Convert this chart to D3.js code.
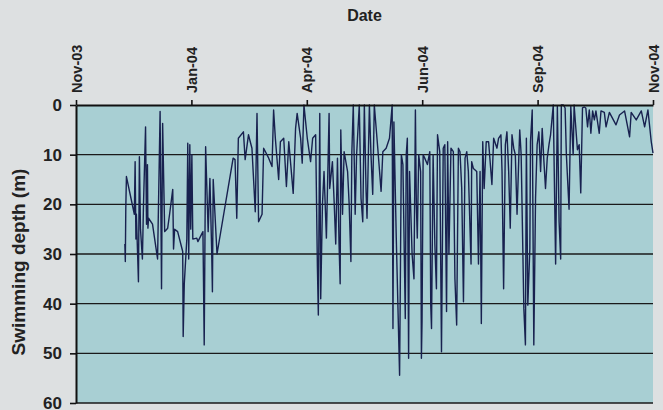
<!DOCTYPE html>
<html>
<head>
<meta charset="utf-8">
<script src="https://cdn.jsdelivr.net/npm/d3@7"></script>
<style>
  html, body { margin: 0; padding: 0; background: #dde0e1; }
  svg { display: block; font-family: "Liberation Sans", Arial, sans-serif; }
</style>
</head>
<body>
<div id="chart"></div>
<script>
// days since 15 Nov 2003 and swimming depth (m)
const dayOfStudy = [
  30.9, 31.2, 31.5, 31.9, 36.9, 37.4, 37.9, 38.2, 39.5, 40.1, 40.8, 42.0, 42.7, 44.0, 44.6, 45.2, 45.5, 45.9,
  48.4, 51.6, 53.2, 54.1, 54.8, 56.1, 58.0, 59.2, 61.2, 61.7, 62.4, 64.3, 67.5, 67.8, 68.5, 70.1, 70.7, 71.3,
  72.0, 72.6, 73.3, 73.9, 76.4, 77.1, 80.3, 81.1, 82.0, 83.6, 84.7, 85.8, 86.3, 86.8, 89.2, 99.4, 100.6, 101.7,
  102.7, 105.9, 107.0, 109.1, 111.3, 113.4, 114.5, 115.5, 117.7, 118.7, 121.9, 124.0, 125.0, 126.1, 128.2, 129.3,
  131.4, 133.1, 134.6, 137.4, 138.9, 139.9, 142.1, 143.1, 144.2, 146.3, 148.4, 149.7, 151.6, 152.7, 153.3, 154.2,
  154.8, 155.9, 156.9, 158.4, 160.1, 160.5, 162.2, 163.3, 164.3, 165.4, 166.4, 167.1, 167.5, 168.6, 169.6, 171.8,
  172.8, 173.9, 174.5, 175.4, 176.6, 177.5, 179.2, 180.3, 181.4, 182.4, 183.5, 184.1, 185.6, 186.6, 187.7, 188.7,
  190.9, 193.0, 194.1, 196.2, 198.3, 200.0, 200.5, 201.1, 202.6, 204.7, 205.8, 206.8, 208.3, 208.9, 209.6, 210.4,
  211.0, 212.6, 213.8, 214.7, 215.3, 215.9, 216.8, 218.0, 218.5, 218.9, 219.6, 220.6, 222.3, 223.8, 224.4, 224.9,
  225.9, 227.0, 228.0, 228.7, 230.1, 231.2, 232.3, 233.3, 234.4, 235.1, 235.9, 237.2, 238.7, 239.7, 240.8, 241.9,
  242.9, 244.0, 245.1, 246.1, 247.2, 248.2, 249.9, 250.3, 251.4, 253.5, 254.6, 255.6, 256.4, 257.3, 258.2, 259.5,
  261.0, 263.1, 264.2, 266.3, 267.3, 268.8, 269.5, 270.5, 271.6, 272.6, 273.7, 274.7, 275.8, 276.9, 277.9, 279.0,
  280.1, 280.7, 281.6, 283.3, 284.3, 284.9, 285.8, 287.1, 287.5, 288.6, 289.6, 290.7, 291.7, 292.8, 293.9, 294.9,
  296.0, 297.0, 298.1, 299.2, 300.2, 301.9, 303.4, 304.5, 305.6, 306.6, 307.0, 308.3, 309.4, 310.2, 311.9, 313.0,
  314.5, 315.1, 317.2, 318.3, 319.3, 320.4, 321.5, 322.5, 323.6, 324.7, 325.7, 326.8, 327.9, 328.9, 331.0, 332.1,
  334.2, 335.3, 337.4, 341.6, 343.8, 347.0, 350.2, 351.2, 354.4, 357.6, 359.7, 361.8, 363.9, 365.0
];
const depthM = [
  28, 31.5, 20.8, 14.4, 22, 11.4, 27, 22, 35.6, 10.4, 25, 31, 20, 4.4, 24, 12, 24.8, 22.8,
  24, 31, 1.3, 37, 3.7, 25.5, 24.8, 22, 17, 29, 25, 25.5, 29.5, 46.6, 36, 27, 7.7, 31,
  8, 25, 10, 27, 26.8, 27.5, 25.5, 48.3, 8.4, 25.5, 14.8, 29, 37.6, 15, 30, 10.7, 11, 22.8,
  6.7, 5.4, 11, 6, 8.7, 21.5, 1.7, 23.5, 22, 8.7, 10.7, 12.4, 1, 6.7, 15, 7.4,
  6.7, 16.4, 7.4, 17.8, 4.7, 1.7, 6.7, 11.7, 0, 6.7, 11.4, 6.7, 6, 32.5, 42.3, 1.7,
  39, 20, 13.4, 26.8, 1.7, 16.8, 11.4, 19.5, 28, 10.7, 28, 36, 5, 22, 9.4, 13.4,
  20, 31.5, 9.4, 0, 22, 10, 0, 18.8, 23.5, 0, 17.4, 22.8, 0, 10, 18, 0,
  8.7, 17.4, 9.4, 8.7, 6.7, 0, 45, 3.4, 26.8, 54.4, 10, 12, 43, 10, 6.7, 51,
  13.4, 30, 35, 1, 20, 26.8, 10, 13.4, 51, 43.6, 10, 10.7, 12, 9.4, 40.3, 45,
  10, 28, 37, 6, 9.4, 49.7, 8.7, 8, 41.6, 7.4, 30, 8.7, 9.4, 35, 44.3, 8.7,
  9.4, 16.8, 39.6, 10.7, 9.4, 13.4, 32, 11.4, 12.8, 13.4, 32, 13.4, 44, 7.4, 16.8, 7.4,
  7.4, 16, 6.7, 8.7, 6.7, 6, 13.4, 37, 8, 5.4, 13.4, 24.8, 6, 8.7, 10, 22,
  10.7, 5, 10, 41, 48.3, 6.7, 40.3, 28.9, 7.4, 1, 48.3, 18.8, 8, 5.4, 13.4, 4.7,
  11.4, 16.8, 10.7, 8, 6, 0, 32, 0.3, 23.5, 31, 0, 0, 0.6, 10, 21, 0.3,
  10, 0, 9, 8, 17.7, 0.6, 0.4, 0.6, 4.4, 1, 5.7, 1.2, 3, 1.2, 5.7, 1.2,
  1.5, 4.4, 1.5, 4, 2, 1.2, 6.4, 1.5, 3, 1.2, 4.4, 1, 7.4, 9.7
];
const depthTicks = [0, 10, 20, 30, 40, 50, 60];
const dateTicks = ["2003-11-15", "2004-01-27", "2004-04-09", "2004-06-21", "2004-09-02", "2004-11-14"];

const startDate = new Date(2003, 10, 15);
const endDate = new Date(2004, 10, 14);
const points = dayOfStudy.map((d, i) => ({
  date: new Date(startDate.getTime() + d * 864e5),
  depth: depthM[i]
}));

const width = 663, height = 410;
const margin = { top: 105, right: 10, bottom: 7, left: 76 };
const innerW = width - margin.left - margin.right;
const innerH = height - margin.top - margin.bottom;

const svg = d3.select("#chart")
  .append("svg")
  .attr("width", width)
  .attr("height", height);

const g = svg.append("g")
  .attr("transform", "translate(" + margin.left + "," + margin.top + ")");

const x = d3.scaleTime()
  .domain([startDate, endDate])
  .range([0, innerW]);
const y = d3.scaleLinear()
  .domain([0, 60])
  .range([0, innerH]);

// plot background
g.append("rect")
  .attr("width", innerW)
  .attr("height", innerH)
  .attr("fill", "#a8cfd3");

// gridlines
g.append("g")
  .selectAll("line")
  .data(depthTicks.slice(1))
  .join("line")
  .attr("x1", 0)
  .attr("x2", innerW)
  .attr("y1", d => y(d))
  .attr("y2", d => y(d))
  .attr("stroke", "#1a1a1a")
  .attr("stroke-width", 1.4);

// depth trace
const line = d3.line()
  .x(d => x(d.date))
  .y(d => y(d.depth));
g.append("path")
  .datum(points)
  .attr("fill", "none")
  .attr("stroke", "#18214f")
  .attr("stroke-width", 1.4)
  .attr("stroke-linejoin", "round")
  .attr("d", line);

// top date axis
const xAxis = d3.axisTop(x)
  .tickValues(dateTicks.map(s => d3.timeParse("%Y-%m-%d")(s)))
  .tickFormat(d3.timeFormat("%b-%y"))
  .tickSize(5)
  .tickSizeOuter(0);
const xAxisElement = g.append("g").call(xAxis);
xAxisElement.select(".domain").attr("stroke", "#111").attr("stroke-width", 2);
xAxisElement.selectAll(".tick line").attr("stroke", "#111").attr("stroke-width", 1.6);
xAxisElement.selectAll("text")
  .attr("fill", "#222")
  .attr("font-size", 14.5)
  .attr("font-weight", "bold")
  .attr("transform", "rotate(-90)")
  .attr("x", 12)
  .attr("y", 0)
  .attr("dy", "0.35em")
  .style("text-anchor", "start");

// left depth axis
const yAxis = d3.axisLeft(y)
  .tickValues(depthTicks)
  .tickSize(6)
  .tickSizeOuter(0)
  .tickPadding(8);
const yAxisElement = g.append("g").call(yAxis);
yAxisElement.select(".domain").attr("stroke", "#111").attr("stroke-width", 2);
yAxisElement.selectAll(".tick line").attr("stroke", "#111").attr("stroke-width", 1.6);
yAxisElement.selectAll("text")
  .attr("fill", "#222")
  .attr("font-size", 17)
  .attr("font-weight", "bold");

// titles
svg.append("text")
  .attr("x", margin.left + innerW / 2)
  .attr("y", 21)
  .attr("text-anchor", "middle")
  .attr("font-size", 16)
  .attr("font-weight", "bold")
  .attr("fill", "#222")
  .text("Date");

svg.append("text")
  .attr("transform", "translate(25,262) rotate(-90)")
  .attr("text-anchor", "middle")
  .attr("font-size", 19)
  .attr("font-weight", "bold")
  .attr("fill", "#222")
  .text("Swimming depth (m)");
</script>
</body>
</html>
